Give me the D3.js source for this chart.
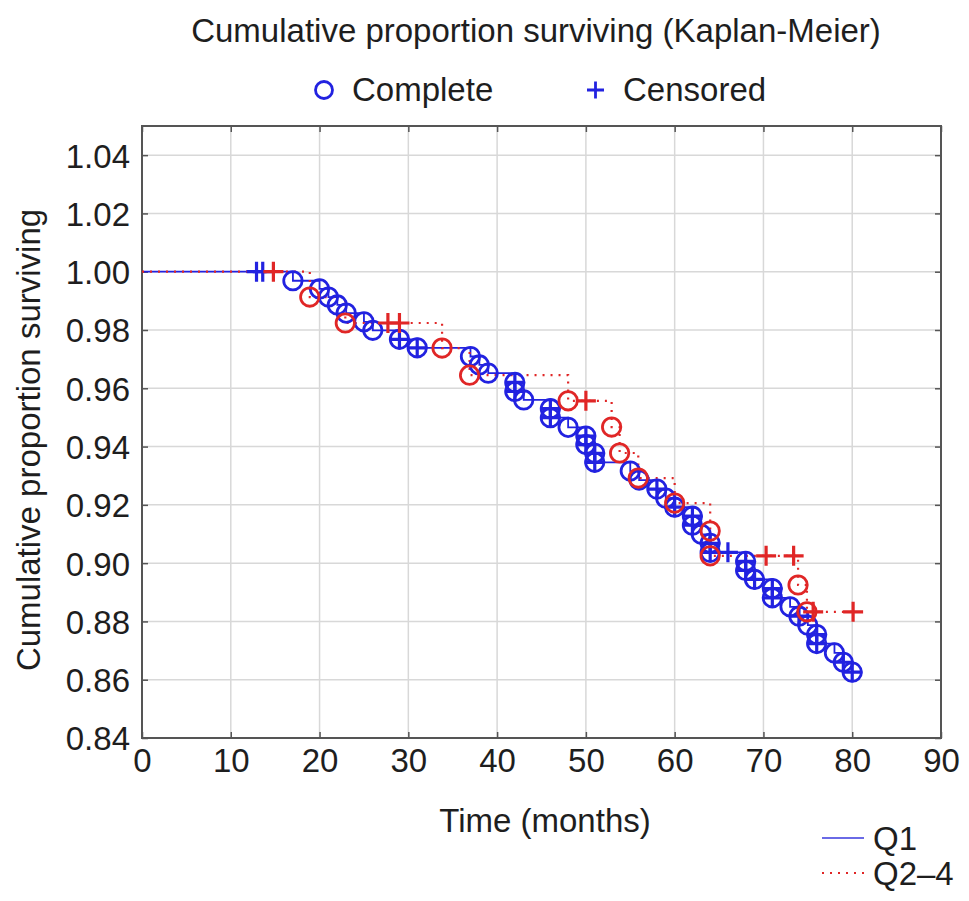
<!DOCTYPE html>
<html lang="en">
<head>
    <meta charset="UTF-8">
    <title>Cumulative proportion surviving (Kaplan-Meier)</title>
    <style>
        body { margin: 0; background: #fff; }
        svg text { font-family: 'Liberation Sans', Arial, sans-serif; fill: #1e1e1e; }
    </style>
    <script src="https://d3js.org/d3.v7.min.js"></script>
</head>
<body>
    <svg width="969" height="901"></svg>
    <script>
        // Q1 group: completed (event) times and the survival value after each drop
        const q1EventTimes = [17, 20, 21, 22, 23, 25, 26, 29, 31, 37, 38, 39, 42, 42, 43, 46, 46, 48, 50, 50, 51, 51,
            55, 56, 58, 59, 60, 62, 62, 63, 64, 64, 68, 68, 69, 71, 71, 73, 74, 75, 76, 76, 78, 79, 80];
        const q1EventSurv = [0.9969, 0.9941, 0.9913, 0.9886, 0.9858, 0.9828, 0.9799, 0.9768, 0.9739, 0.9709, 0.9680,
            0.9652, 0.9620, 0.9589, 0.9560, 0.9530, 0.9499, 0.9466, 0.9436, 0.9407, 0.9377, 0.9346,
            0.9316, 0.9285, 0.9254, 0.9223, 0.9192, 0.9161, 0.9130, 0.9099, 0.9068, 0.9037, 0.9006, 0.8975,
            0.8944, 0.8913, 0.8881, 0.8850, 0.8818, 0.8787, 0.8755, 0.8724, 0.8692, 0.8660, 0.8626];
        // Q1 censored observations
        const q1CensTimes = [12.9, 13.6, 29, 31, 42, 42, 46, 46, 50, 50, 51, 51, 58, 60, 62, 62, 64, 64, 66,
            68, 68, 69, 71, 71, 74, 76, 76, 79, 80];
        const q1CensSurv = [1.0, 1.0, 0.9768, 0.9739, 0.9620, 0.9589, 0.9530, 0.9499, 0.9436, 0.9407, 0.9377, 0.9346,
            0.9254, 0.9192, 0.9161, 0.9130, 0.9068, 0.9037, 0.9037, 0.9006, 0.8975, 0.8944, 0.8913, 0.8881,
            0.8818, 0.8755, 0.8724, 0.8660, 0.8626];

        // Q2-4 group
        const q2EventTimes = [18.9, 22.9, 33.8, 36.9, 48, 52.9, 53.8, 55.9, 60, 64, 64, 73.9, 74.9];
        const q2EventSurv = [0.9913, 0.9824, 0.9738, 0.9645, 0.9557, 0.9467, 0.9378, 0.9292, 0.9206, 0.9110, 0.9025,
            0.8925, 0.8833];
        const q2CensTimes = [14.8, 27.7, 29, 50, 70.3, 73.4, 75.6, 80.1];
        const q2CensSurv = [1.0, 0.9824, 0.9824, 0.9557, 0.9025, 0.9025, 0.8833, 0.8833];

        const xTicks = [0, 10, 20, 30, 40, 50, 60, 70, 80, 90];
        const yTicks = [0.84, 0.86, 0.88, 0.90, 0.92, 0.94, 0.96, 0.98, 1.00, 1.02, 1.04];

        const blue = "#2222e0", red = "#e02626";
        const plot = { left: 142, right: 941, top: 126, bottom: 738 };
        const fontSize = "33px";

        const svg = d3.select("svg");

        const x = d3.scaleLinear().domain([0, 90]).range([plot.left, plot.right]);
        const y = d3.scaleLinear().domain([0.84, 1.05]).range([plot.bottom, plot.top]);

        // grid
        svg.append("g").selectAll("line")
            .data(xTicks.slice(1, -1))
            .enter().append("line")
            .attr("x1", d => x(d)).attr("x2", d => x(d))
            .attr("y1", plot.top).attr("y2", plot.bottom)
            .attr("stroke", "#d8d8d8").attr("stroke-width", 1.5);
        svg.append("g").selectAll("line")
            .data(yTicks.slice(1))
            .enter().append("line")
            .attr("x1", plot.left).attr("x2", plot.right)
            .attr("y1", d => y(d)).attr("y2", d => y(d))
            .attr("stroke", "#d8d8d8").attr("stroke-width", 1.5);

        // axes (ticks point inward, labels outside)
        const fmtY = d3.format(".2f");
        const xAxis = svg.append("g")
            .attr("transform", `translate(0,${plot.bottom})`)
            .call(d3.axisBottom(x).tickValues(xTicks).tickSizeInner(-6).tickSizeOuter(0).tickPadding(11));
        const xAxisTop = svg.append("g")
            .attr("transform", `translate(0,${plot.top})`)
            .call(d3.axisTop(x).tickValues(xTicks).tickSizeInner(-6).tickSizeOuter(0).tickFormat(""));
        const yAxis = svg.append("g")
            .attr("transform", `translate(${plot.left},0)`)
            .call(d3.axisLeft(y).tickValues(yTicks).tickFormat(fmtY).tickSizeInner(-6).tickSizeOuter(0).tickPadding(12));
        const yAxisRight = svg.append("g")
            .attr("transform", `translate(${plot.right},0)`)
            .call(d3.axisRight(y).tickValues(yTicks).tickSizeInner(-6).tickSizeOuter(0).tickFormat(""));

        [xAxis, xAxisTop, yAxis, yAxisRight].forEach(a => {
            a.select(".domain").remove();
            a.selectAll(".tick line").attr("stroke", "#555").attr("stroke-width", 1.5);
        });
        xAxis.selectAll("text").style("font-size", fontSize).attr("fill", "#1e1e1e");
        yAxis.selectAll("text").style("font-size", fontSize).attr("fill", "#1e1e1e").attr("dy", "0.36em");

        // frame
        svg.append("rect")
            .attr("x", plot.left).attr("y", plot.top)
            .attr("width", plot.right - plot.left).attr("height", plot.bottom - plot.top)
            .attr("fill", "none").attr("stroke", "#555").attr("stroke-width", 2);

        // step curves
        function stepPoints(evT, evS, ceT) {
            const pts = [[0, 1]];
            evT.forEach((t, i) => pts.push([t, evS[i]]));
            const end = d3.max(evT.concat(ceT));
            pts.push([end, pts[pts.length - 1][1]]);
            return pts;
        }
        const line = d3.line().x(d => x(d[0])).y(d => y(d[1])).curve(d3.curveStepAfter);

        svg.append("path")
            .datum(stepPoints(q1EventTimes, q1EventSurv, q1CensTimes))
            .attr("d", line)
            .attr("fill", "none").attr("stroke", blue).attr("stroke-width", 1.8);
        svg.append("path")
            .datum(stepPoints(q2EventTimes, q2EventSurv, q2CensTimes))
            .attr("d", line)
            .attr("fill", "none").attr("stroke", red).attr("stroke-width", 2.2)
            .attr("stroke-dasharray", "2,6");

        // markers
        function circles(times, surv, color) {
            svg.append("g").selectAll("circle")
                .data(times.map((t, i) => [t, surv[i]]))
                .enter().append("circle")
                .attr("cx", d => x(d[0])).attr("cy", d => y(d[1]))
                .attr("r", 9.2)
                .attr("fill", "none").attr("stroke", color).attr("stroke-width", 2.8);
        }
        function pluses(times, surv, color) {
            svg.append("g").selectAll("path")
                .data(times.map((t, i) => [t, surv[i]]))
                .enter().append("path")
                .attr("d", d => `M${x(d[0]) - 10},${y(d[1])}h20M${x(d[0])},${y(d[1]) - 10}v20`)
                .attr("stroke", color).attr("stroke-width", 3.2);
        }
        pluses(q1CensTimes, q1CensSurv, blue);
        circles(q1EventTimes, q1EventSurv, blue);
        pluses(q2CensTimes, q2CensSurv, red);
        circles(q2EventTimes, q2EventSurv, red);

        // titles
        svg.append("text")
            .attr("x", 536).attr("y", 42)
            .attr("text-anchor", "middle")
            .style("font-size", fontSize)
            .text("Cumulative proportion surviving (Kaplan-Meier)");

        svg.append("text")
            .attr("x", 545).attr("y", 832)
            .attr("text-anchor", "middle")
            .style("font-size", fontSize)
            .text("Time (months)");

        svg.append("text")
            .attr("transform", `translate(40,${(plot.top + plot.bottom) / 2 + 8}) rotate(-90)`)
            .attr("text-anchor", "middle")
            .style("font-size", fontSize)
            .text("Cumulative proportion surviving");

        // marker legend
        svg.append("circle")
            .attr("cx", 324).attr("cy", 90).attr("r", 8.5)
            .attr("fill", "none").attr("stroke", blue).attr("stroke-width", 2.8);
        svg.append("text").attr("x", 352).attr("y", 101).style("font-size", fontSize).text("Complete");
        svg.append("path")
            .attr("d", "M587,90h17M595.5,81.5v17")
            .attr("stroke", blue).attr("stroke-width", 2.8);
        svg.append("text").attr("x", 623).attr("y", 101).style("font-size", fontSize).text("Censored");

        // group legend
        svg.append("line")
            .attr("x1", 822).attr("x2", 864).attr("y1", 838).attr("y2", 838)
            .attr("stroke", "#6a6ae6").attr("stroke-width", 2);
        svg.append("text").attr("x", 873).attr("y", 850).style("font-size", fontSize).text("Q1");
        svg.append("line")
            .attr("x1", 822).attr("x2", 864).attr("y1", 873).attr("y2", 873)
            .attr("stroke", red).attr("stroke-width", 2).attr("stroke-dasharray", "2,6");
        svg.append("text").attr("x", 873).attr("y", 885).style("font-size", fontSize).text("Q2–4");
    </script>
</body>
</html>
